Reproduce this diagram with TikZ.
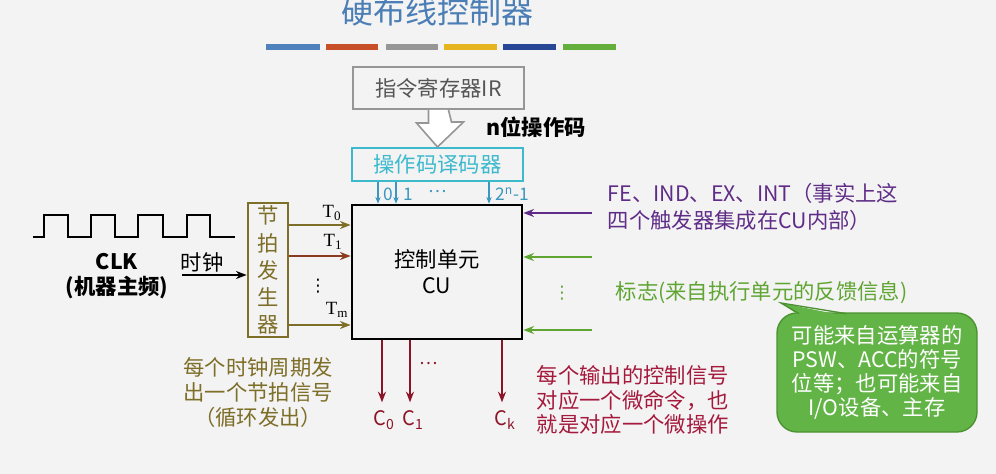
\documentclass[tikz,border=0pt]{standalone}
\usepackage{fontspec}
\setmainfont{Noto Sans CJK SC}
\newfontfamily\seriffont{Liberation Serif}
\newfontfamily\symfont{DejaVu Sans}
\usetikzlibrary{arrows.meta}
\definecolor{bg}{RGB}{243,243,243}
\definecolor{titleblue}{RGB}{74,126,181}
\definecolor{barA}{RGB}{79,129,189}
\definecolor{barB}{RGB}{200,80,40}
\definecolor{barC}{RGB}{150,150,150}
\definecolor{barD}{RGB}{230,180,30}
\definecolor{barE}{RGB}{40,70,150}
\definecolor{barF}{RGB}{100,175,60}
\definecolor{irgray}{RGB}{150,150,150}
\definecolor{irtext}{RGB}{85,85,85}
\definecolor{deccyan}{RGB}{60,185,205}
\definecolor{lblblue}{RGB}{60,150,190}
\definecolor{olivec}{RGB}{125,110,40}
\definecolor{brownred}{RGB}{140,60,30}
\definecolor{purplec}{RGB}{95,45,135}
\definecolor{greentext}{RGB}{95,165,50}
\definecolor{redarr}{RGB}{140,20,40}
\definecolor{redtext}{RGB}{165,25,60}
\definecolor{callfill}{RGB}{98,180,70}
\definecolor{callborder}{RGB}{75,145,50}
\begin{document}
\begin{tikzpicture}[x=0.75pt,y=-0.75pt,
  every node/.style={font=\fontsize{16}{19}\selectfont},
  box/.style={draw, inner sep=0pt},
  arr/.style={-{Stealth[length=8pt,width=6pt]}, line width=1.5pt},
  smallarr/.style={-{Stealth[length=5pt,width=4pt]}, line width=1pt, lblblue},
  tlabel/.style={font=\seriffont\fontsize{14}{14}\selectfont},
  clabel/.style={text=redarr, font=\fontsize{15}{15}\selectfont},
]
\fill[bg] (0,0) rectangle (996,474);
\useasboundingbox (0,0) rectangle (996,474);

% title and colour bars
\node[text=titleblue, font=\fontsize{24}{24}\selectfont] (title) at (437,11) {硬布线控制器};
\fill[barA] (266,44) rectangle (320,50);
\fill[barB] (326,44) rectangle (378,50);
\fill[barC] (386,44) rectangle (438,50);
\fill[barD] (444,44) rectangle (497,50);
\fill[barE] (503,44) rectangle (556,50);
\fill[barF] (563,44) rectangle (616,50);

% IR and decoder
\node[box, draw=irgray, line width=1.5pt, text=irtext, minimum width=128.25pt, minimum height=31.5pt] (ir) at (438.5,88) {指令寄存器IR};
\node[box, draw=deccyan, line width=1.5pt, text=deccyan, minimum width=128.25pt, minimum height=24.75pt] (dec) at (437.5,164.5) {操作码译码器};
\draw[irgray, fill=white, line width=1.2pt]
  ([xshift=-7.5pt]ir.south) -- ++(0,13) -- ++(-12,0) -- (dec.north) -- ++(26,-25) -- ++(-12,0) -- ([xshift=7.5pt]ir.south);
\node[font=\bfseries\fontsize{16}{19}\selectfont] (ncode) at (536,127) {n位操作码};

% control unit
\node[box, line width=2pt, align=center, font=\fontsize{16}{19.5}\selectfont, minimum width=127.5pt, minimum height=100.5pt] (cu) at (437,272) {控制单元\\CU};

% decoder outputs
\coordinate (d0) at (378,0);
\coordinate (d1) at (396,0);
\coordinate (dn) at (489,0);
\draw[smallarr] (dec.south -| d0) -- (d0 |- cu.north);
\draw[smallarr] (dec.south -| d1) -- (d1 |- cu.north);
\draw[smallarr] (dec.south -| dn) -- (dn |- cu.north);
\begin{scope}[every node/.style={text=lblblue, font=\fontsize{13}{13}\selectfont}]
\node (l0) at (388,194) {0};
\node (l1) at (408,194) {1};
\node (ldots) at (438,192) {⋯};
\node (ln) at (512,194) {2\textsuperscript{n}-1};
\end{scope}

% beat generator
\node[box, draw=olivec, text=olivec, line width=2pt, align=center, font=\fontsize{16}{20.3}\selectfont, minimum width=30pt, minimum height=100.5pt] (gen) at (268,270) {节\\拍\\发\\生\\器};

% clock waveform
\draw[line width=1.5pt] (33,237) -- (44,237) -- (44,215) -- (68,215) -- (68,237) -- (91,237) -- (91,215) -- (115,215) -- (115,237) -- (138,237) -- (138,215) -- (163,215) -- (163,237) -- (187,237) -- (187,215) -- (210,215) -- (210,237) -- (235,237);
\node[font=\bfseries\fontsize{16}{19}\selectfont] (clk) at (117,262) {CLK};
\node[font=\bfseries\fontsize{16}{19}\selectfont] (freq) at (117,288) {(机器主频)};
\node (clock) at (202,262) {时钟};
\coordinate (clkin) at (182,275);
\draw[arr] (clkin) -- (clkin -| gen.west);

% beat signals
\coordinate (t0) at (0,225);
\coordinate (t1) at (0,256);
\coordinate (tm) at (0,325);
\draw[arr, olivec] (gen.east |- t0) -- (cu.west |- t0);
\draw[arr, brownred] (gen.east |- t1) -- (cu.west |- t1);
\draw[arr, olivec] (gen.east |- tm) -- (cu.west |- tm);
\node[tlabel] (T0) at (332,213) {T\textsubscript{0}};
\node[tlabel] (T1) at (333,242) {T\textsubscript{1}};
\node[inner sep=0pt, font=\symfont\fontsize{13}{13}\selectfont] (Tdots) at (318,286) {⋮};
\node[tlabel] (Tm) at (337,310) {T\textsubscript{m}};

% inputs on the right
\coordinate (fe) at (592,213);
\coordinate (g1) at (592,257);
\coordinate (g2) at (592,330);
\draw[arr, purplec] (fe) -- (fe -| cu.east);
\draw[arr, greentext] (g1) -- (g1 -| cu.east);
\draw[arr, greentext] (g2) -- (g2 -| cu.east);
\node[text=greentext, inner sep=0pt, font=\symfont\fontsize{13}{13}\selectfont] (gdots) at (562,293) {⋮};
\node[text=purplec, anchor=west, align=left, font=\fontsize{16}{20.3}\selectfont] (fetext) at (603,207) {FE、IND、EX、INT（事实上这\\四个触发器集成在CU内部）};
\node[text=greentext, anchor=west] (flag) at (611,293) {标志(来自执行单元的反馈信息)};

% callout
\node[draw=callborder, fill=callfill, line width=1pt, rounded corners=15pt, inner sep=0pt, text=white, align=center, font=\fontsize{16}{18}\selectfont, minimum width=150pt, minimum height=89.25pt] (note) at (877,372.5) {可能来自运算器的\\PSW、ACC的符号\\位等；也可能来自\\I/O设备、主存};
\fill[callfill] (800,316) -- (781,303) -- (845,316) -- cycle;
\draw[callborder, line width=1pt] (799,313.6) -- (781,303) -- (846,313.6);

% control outputs
\coordinate (c0) at (382,0);
\coordinate (c1) at (410,0);
\coordinate (ck) at (502,0);
\draw[arr, redarr] (cu.south -| c0) -- ++(0,62);
\draw[arr, redarr] (cu.south -| c1) -- ++(0,62);
\draw[arr, redarr] (cu.south -| ck) -- ++(0,62);
\node[text=redarr, font=\fontsize{13}{13}\selectfont] (cdots) at (429,364) {⋯};
\node[clabel] (C0) at (384,420) {C\textsubscript{0}};
\node[clabel] (C1) at (413,420) {C\textsubscript{1}};
\node[clabel] (Ck) at (505,420) {C\textsubscript{k}};

% explanations
\node[text=olivec, align=center, font=\fontsize{16}{18.75}\selectfont] (beatnote) at (258,392) {每个时钟周期发\\出一个节拍信号\\（循环发出）};
\node[text=redtext, anchor=west, align=left, font=\fontsize{16}{18.5}\selectfont] (ctrlnote) at (532,400) {每个输出的控制信号\\对应一个微命令，也\\就是对应一个微操作};
\end{tikzpicture}
\end{document}
